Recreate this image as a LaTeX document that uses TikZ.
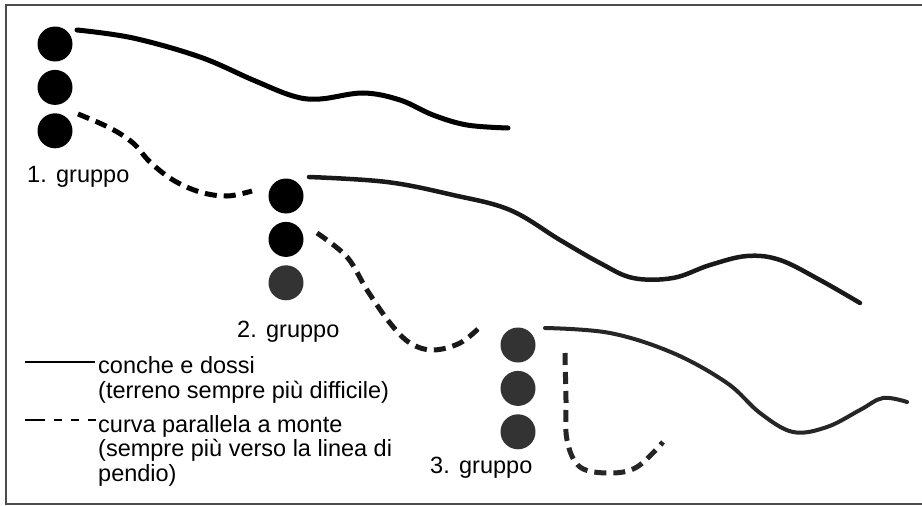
\documentclass[tikz,border=0pt]{standalone}
\usepackage{fontspec}
\setmainfont{Liberation Sans}
\usetikzlibrary{positioning}

\begin{document}
\begin{tikzpicture}[
    x=1pt, y=-1pt,
    node distance=8pt,
    every node/.style={inner sep=0pt, font=\fontsize{23.5}{24.5}\selectfont},
    skier/.style={circle, fill=black, minimum size=35pt},
    greyskier/.style={skier, fill=black!80},
    terrain/.style={line width=5pt, line cap=round},
    uphill/.style={line width=5pt, dash pattern=on 12pt off 7pt}
  ]
  \useasboundingbox (0,0) rectangle (922,506);
  \draw[line width=1.5pt, black!70] (922,5) -- (6,5) -- (6,504) -- (922,504);

  % gruppo 1
  \node[skier] (g1a) at (55,44) {};
  \node[skier, below=of g1a] (g1b) {};
  \node[skier, below=of g1b] (g1c) {};
  \node[anchor=base west] (lab1) at (27,182) {1.\hspace{0.4em}gruppo};

  % gruppo 2
  \node[skier] (g2a) at (286,196) {};
  \node[skier, below=of g2a] (g2b) {};
  \node[greyskier, below=of g2b] (g2c) {};
  \node[anchor=base west] (lab2) at (237,337) {2.\hspace{0.4em}gruppo};

  % gruppo 3
  \node[greyskier] (g3a) at (518,345) {};
  \node[greyskier, below=of g3a] (g3b) {};
  \node[greyskier, below=of g3b] (g3c) {};
  \node[anchor=base west] (lab3) at (430,473) {3.\hspace{0.4em}gruppo};

  \draw[terrain] plot[smooth, tension=0.6] coordinates {(77,30) (133,38) (200,57) (253,80) (293,96) (320,99) (363,93) (400,100) (433,115) (467,125) (508,128)};
  \draw[uphill] plot[smooth, tension=0.6] coordinates {(78,114) (110,128) (133,143) (150,162) (173,180) (200,192) (227,196) (252,191)};

  \draw[terrain, line width=4.5pt, black!90] plot[smooth, tension=0.6] coordinates {(309,177) (387,182) (453,195) (510,210) (560,240) (600,263) (633,278) (673,278) (710,265) (747,256) (780,260) (820,280) (860,303)};
  \draw[uphill, black!90] plot[smooth, tension=0.6] coordinates {(317,233) (347,257) (367,290) (390,323) (410,343) (433,350) (460,343) (480,327)};

  \draw[terrain, line width=4pt, black!85] plot[smooth, tension=0.6] coordinates {(545,328) (610,333) (673,353) (727,383) (760,413) (793,432) (827,427) (860,410) (883,398) (907,402)};
  \draw[uphill, black!85] plot[smooth, tension=0.6] coordinates {(565,353) (566,400) (567,440) (580,467) (610,473) (637,467) (663,442)};

  % legenda
  \node[anchor=base west, align=left] (leg1) at (98,398) {conche e dossi\\(terreno sempre più difficile)};
  \node[anchor=base west, align=left] (leg2) at (98,481) {curva parallela a monte\\(sempre più verso la linea di\\pendio)};
  \draw[line width=2.5pt] (25,362) -- (95,362);
  \draw[line width=2.5pt, dash pattern=on 20pt off 9pt on 8pt off 9pt on 8pt off 9pt on 8pt off 20pt] (25,420) -- (96,420);
\end{tikzpicture}
\end{document}
